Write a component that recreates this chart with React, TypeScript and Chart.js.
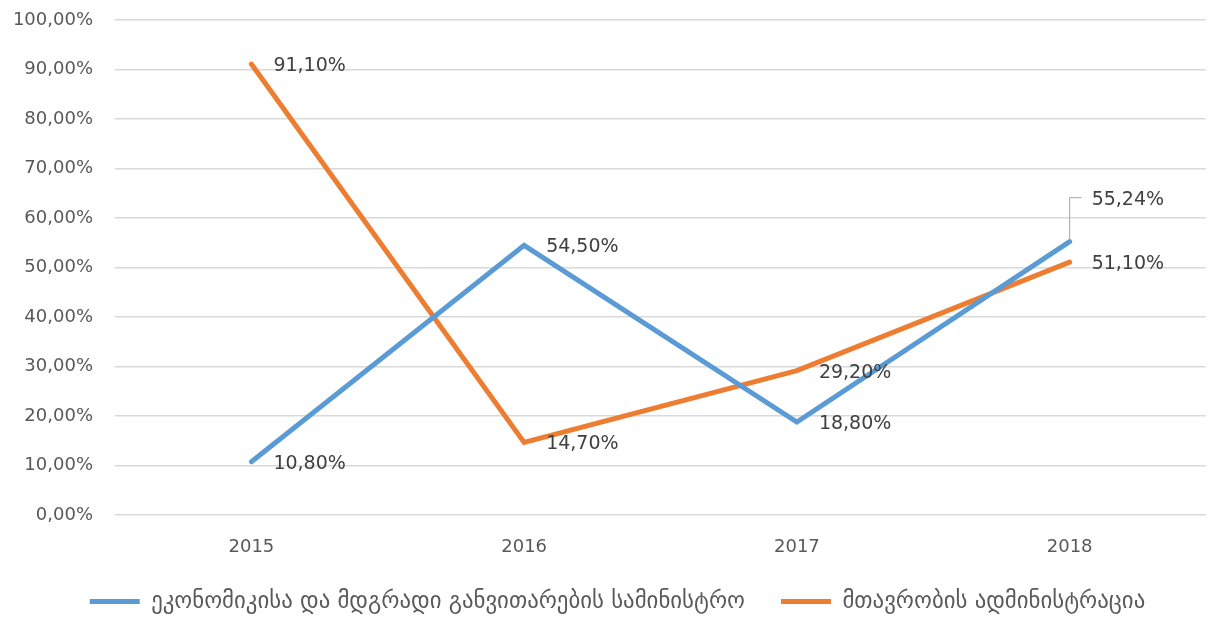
import React, { useEffect, useRef } from "react";
import { Chart, registerables } from "chart.js";

Chart.register(...registerables);

const years = ["2015", "2016", "2017", "2018"];
const seriesNames = [
  "ეკონომიკისა და მდგრადი განვითარების სამინისტრო",
  "მთავრობის ადმინისტრაცია",
];
const economyValues = [10.8, 54.5, 18.8, 55.24];
const adminValues = [91.1, 14.7, 29.2, 51.1];
const seriesColors = ["#5b9bd5", "#ed7d31"];

const FONT = "'DejaVu Sans', sans-serif";

const fmt = (v: number) => v.toFixed(2).replace(".", ",") + "%";

const labelPlugin = {
  id: "pointLabels",
  beforeDraw(chart: any) {
    if (chart.legend) chart.legend.left = 29;
  },
  afterDatasetsDraw(chart: any) {
    const ctx = chart.ctx;
    ctx.save();
    ctx.font = `19px ${FONT}`;
    ctx.fillStyle = "#404040";
    ctx.textAlign = "left";
    ctx.textBaseline = "middle";
    chart.data.datasets.forEach((ds: any, di: number) => {
      const meta = chart.getDatasetMeta(di);
      meta.data.forEach((pt: any, i: number) => {
        const lifted = di === 0 && i === ds.data.length - 1;
        const dy = lifted ? -42 : 2;
        if (lifted) {
          ctx.strokeStyle = "#a6a6a6";
          ctx.lineWidth = 1;
          ctx.beginPath();
          ctx.moveTo(pt.x, pt.y - 2);
          ctx.lineTo(pt.x, pt.y + dy - 2);
          ctx.lineTo(pt.x + 12, pt.y + dy - 2);
          ctx.stroke();
        }
        ctx.fillText(fmt(ds.data[i]), pt.x + 22, pt.y + dy);
      });
    });
    ctx.restore();
  },
};

export default function App() {
  const ref = useRef<HTMLCanvasElement | null>(null);
  useEffect(() => {
    if (!ref.current) return;
    const chart = new Chart(ref.current, {
      type: "line",
      data: {
        labels: years,
        datasets: [
          {
            label: seriesNames[0],
            data: economyValues,
            borderColor: seriesColors[0],
            backgroundColor: seriesColors[0],
            borderWidth: 5,
            pointRadius: 0,
            tension: 0,
            borderCapStyle: "round",
          },
          {
            label: seriesNames[1],
            data: adminValues,
            borderColor: seriesColors[1],
            backgroundColor: seriesColors[1],
            borderWidth: 5,
            pointRadius: 0,
            tension: 0,
            borderCapStyle: "round",
          },
        ],
      },
      options: {
        animation: false,
        responsive: false,
        layout: { padding: { top: 20, right: 9, left: 0, bottom: 13 } },
        plugins: {
          tooltip: { enabled: false },
          legend: {
            position: "bottom",
            labels: {
              font: { family: FONT, size: 22.8 },
              color: "#595959",
              boxWidth: 50,
              boxHeight: 5,
              padding: 36,
              generateLabels: (chart: any) =>
                chart.data.datasets.map((ds: any, i: number) => ({
                  text: ds.label,
                  fillStyle: ds.borderColor,
                  strokeStyle: ds.borderColor,
                  lineWidth: 0,
                  fontColor: "#595959",
                  datasetIndex: i,
                  hidden: false,
                })),
            },
          },
        },
        scales: {
          x: {
            offset: true,
            grid: { display: false, drawTicks: false },
            border: { display: false },
            ticks: {
              font: { family: FONT, size: 18 },
              color: "#595959",
              padding: 21,
            },
            afterFit: (scale: any) => {
              scale.height = 39;
            },
          },
          y: {
            min: 0,
            max: 100,
            grid: { color: "#d9d9d9", lineWidth: 1.5, drawTicks: false },
            border: { display: false },
            ticks: {
              stepSize: 10,
              font: { family: FONT, size: 18 },
              color: "#595959",
              padding: 22,
              callback: (v: any) => fmt(Number(v)),
            },
            afterFit: (scale: any) => {
              scale.width = 115;
              scale.paddingTop = 0;
              scale.paddingBottom = 0;
            },
          },
        },
      },
      plugins: [labelPlugin],
    });
    return () => chart.destroy();
  }, []);
  return (
    <div style={{ position: "fixed", left: 0, top: 0, width: 1215, height: 636, background: "#fff" }}>
      <canvas ref={ref} width={1215} height={636} />
    </div>
  );
}
